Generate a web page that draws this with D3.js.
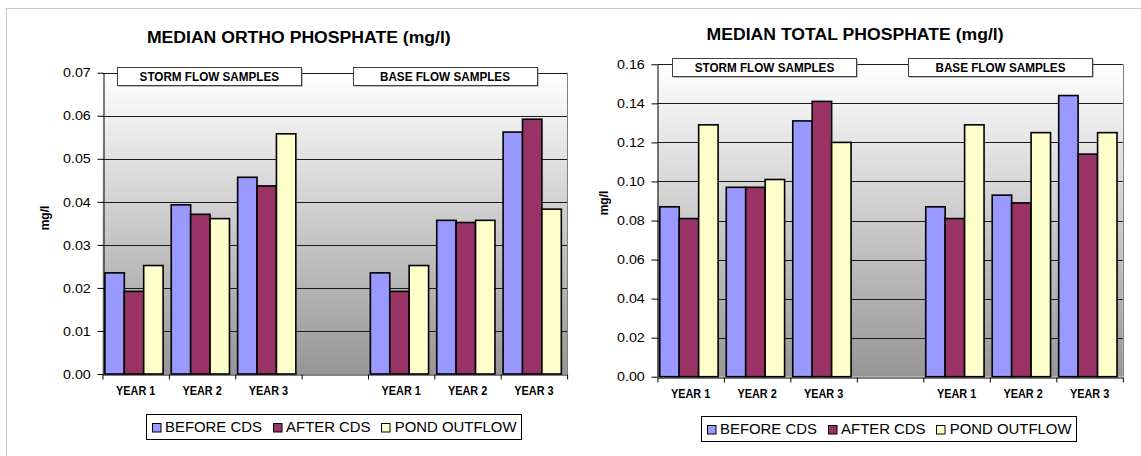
<!DOCTYPE html>
<html>
<head>
<meta charset="utf-8">
<script src="https://cdn.jsdelivr.net/npm/d3@7"></script>
<style>
  html, body { margin: 0; padding: 0; background: #ffffff; }
  svg { display: block; font-family: "Liberation Sans", Arial, Helvetica, sans-serif; }
</style>
</head>
<body>
<svg id="chart" width="1141" height="456"></svg>
<script>
// Category slots: three storm-flow years, an empty spacer slot, three base-flow years
const xLabels = ["YEAR 1", "YEAR 2", "YEAR 3", "", "YEAR 1", "YEAR 2", "YEAR 3"];
const seriesNames = ["BEFORE CDS", "AFTER CDS", "POND OUTFLOW"];
const sampleGroups = ["STORM FLOW SAMPLES", "BASE FLOW SAMPLES"];

// Median ortho phosphate (mg/l)
const orthoBefore = [0.0235, 0.0393, 0.0457, null, 0.0235, 0.0357, 0.0562];
const orthoAfter  = [0.0192, 0.0371, 0.0437, null, 0.0192, 0.0352, 0.0592];
const orthoPond   = [0.0252, 0.0361, 0.0558, null, 0.0252, 0.0357, 0.0383];
const orthoTicks  = [0, 0.01, 0.02, 0.03, 0.04, 0.05, 0.06, 0.07];

// Median total phosphate (mg/l)
const totalBefore = [0.087, 0.097, 0.131, null, 0.087, 0.093, 0.144];
const totalAfter  = [0.081, 0.097, 0.141, null, 0.081, 0.089, 0.114];
const totalPond   = [0.129, 0.101, 0.120, null, 0.129, 0.125, 0.125];
const totalTicks  = [0, 0.02, 0.04, 0.06, 0.08, 0.10, 0.12, 0.14, 0.16];

const seriesColors = ["#9999ff", "#993366", "#ffffcc"];

const svg = d3.select("#chart");
const defs = svg.append("defs");

// Outer frame
svg.append("path")
  .attr("d", "M6.5,456 V8.5 H1141")
  .attr("fill", "none")
  .attr("stroke", "#c8c8c8")
  .attr("stroke-width", 1);

// Stretch text horizontally by factor k
function widen(sel, k) {
  sel.each(function () {
    const w = this.getComputedTextLength();
    if (w > 0) {
      d3.select(this)
        .attr("textLength", (w * k).toFixed(2))
        .attr("lengthAdjust", "spacingAndGlyphs");
    }
  });
}

function drawChart(cfg) {
  const g = svg.append("g");
  const nSlots = xLabels.length;

  const x0 = d3.scaleBand().domain(d3.range(nSlots)).range([cfg.left, cfg.right]);
  const xEdge = d3.scaleLinear().domain([0, nSlots]).range([cfg.left, cfg.right]);
  const x1 = d3.scaleBand().domain(seriesNames).range([0, x0.bandwidth()]).paddingOuter(0.21);
  const y = d3.scaleLinear().domain([0, d3.max(cfg.ticks)]).range([cfg.bottom, cfg.top]);

  // Plot background: white fading to grey
  const grad = defs.append("linearGradient")
    .attr("id", cfg.id + "-bg")
    .attr("x1", 0).attr("y1", 0).attr("x2", 0).attr("y2", 1);
  grad.append("stop").attr("offset", "0%").attr("stop-color", "#ffffff");
  grad.append("stop").attr("offset", "100%").attr("stop-color", "#969696");

  g.append("rect")
    .attr("x", cfg.left).attr("y", cfg.top)
    .attr("width", cfg.right - cfg.left).attr("height", cfg.bottom - cfg.top)
    .attr("fill", `url(#${cfg.id}-bg)`);

  // Horizontal gridlines
  g.append("g").selectAll("line")
    .data(cfg.ticks.filter(t => t > 0))
    .join("line")
    .attr("x1", cfg.left).attr("x2", cfg.right)
    .attr("y1", d => Math.round(y(d)) + 0.5).attr("y2", d => Math.round(y(d)) + 0.5)
    .attr("stroke", "#1a1a1a").attr("stroke-width", 1);

  // Right border of plot area
  g.append("line")
    .attr("x1", Math.round(cfg.right) + 0.5).attr("x2", Math.round(cfg.right) + 0.5)
    .attr("y1", y(d3.max(cfg.ticks))).attr("y2", cfg.bottom)
    .attr("stroke", "#808080").attr("stroke-width", 1);

  // Bars
  const seriesData = cfg.series.map((vals, si) => ({ name: seriesNames[si], color: seriesColors[si], vals }));
  const barShift = -1.7;
  seriesData.forEach(s => {
    g.append("g").selectAll("rect")
      .data(s.vals.map((v, i) => ({ i, v })).filter(d => d.v != null))
      .join("rect")
      .attr("x", d => x0(d.i) + x1(s.name) + barShift)
      .attr("y", d => y(d.v))
      .attr("width", x1.bandwidth())
      .attr("height", d => y(0) - y(d.v))
      .attr("fill", s.color)
      .attr("stroke", "#000")
      .attr("stroke-width", 1.6);
  });

  // Y axis
  const yAxis = g.append("g")
    .attr("transform", `translate(${Math.round(cfg.left) + 0.5},0)`)
    .call(d3.axisLeft(y).tickValues(cfg.ticks).tickFormat(d3.format(".2f"))
      .tickSizeInner(6).tickSizeOuter(0).tickPadding(6.7));
  yAxis.select(".domain").attr("stroke", "#000");
  yAxis.selectAll(".tick line").attr("stroke", "#000");
  yAxis.selectAll("text")
    .attr("font-size", 13).attr("fill", "#000")
    .attr("font-family", "'Liberation Sans', Arial, sans-serif")
    .call(widen, 1.1);

  // X axis: boundary ticks
  const xAxis = g.append("g")
    .attr("transform", `translate(0,${Math.round(cfg.bottom) + 0.5})`)
    .call(d3.axisBottom(xEdge).tickValues(d3.range(nSlots + 1)).tickFormat("")
      .tickSizeInner(5).tickSizeOuter(0));
  xAxis.select(".domain").attr("stroke", "#000");
  xAxis.selectAll(".tick line").attr("stroke", "#000");

  // X axis: category labels
  const xLab = g.append("g")
    .attr("transform", `translate(0,${cfg.bottom})`)
    .call(d3.axisBottom(x0).tickFormat(i => xLabels[i]).tickSize(0).tickPadding(12.5));
  xLab.select(".domain").remove();
  xLab.selectAll("text")
    .attr("font-size", 12.5).attr("font-weight", "bold").attr("fill", "#000")
    .attr("font-family", "'Liberation Sans', Arial, sans-serif")
    .call(widen, 0.87);

  // Title
  g.append("text")
    .attr("x", (cfg.left + cfg.right) / 2 - cfg.titleShift)
    .attr("y", cfg.titleY)
    .attr("text-anchor", "middle")
    .attr("font-size", 16).attr("font-weight", "bold").attr("fill", "#000")
    .text(cfg.title)
    .call(widen, 1.1);

  // Y axis title
  g.append("text")
    .attr("transform", `translate(${cfg.yLabelX},${cfg.yLabelY}) rotate(-90)`)
    .attr("text-anchor", "middle")
    .attr("dy", "0.35em")
    .attr("font-size", 12).attr("font-weight", "bold").attr("fill", "#000")
    .text("mg/l");

  // Sample-group boxes above the bars
  const boxW = 184, boxH = 18;
  const boxCenters = [xEdge(1.61), xEdge(5.16)];
  sampleGroups.forEach((name, gi) => {
    const cx = boxCenters[gi];
    const bx = Math.round(cx - boxW / 2) + 0.5;
    const by = Math.round(cfg.top - 6) + 0.5;
    g.append("rect")
      .attr("x", bx + 1).attr("y", by + 1).attr("width", boxW).attr("height", boxH)
      .attr("fill", "#7f7f7f");
    g.append("rect")
      .attr("x", bx).attr("y", by).attr("width", boxW).attr("height", boxH)
      .attr("fill", "#ffffff").attr("stroke", "#404040").attr("stroke-width", 1);
    g.append("text")
      .attr("x", cx).attr("y", by + boxH / 2 + 4.6)
      .attr("text-anchor", "middle")
      .attr("font-size", 13).attr("font-weight", "bold").attr("fill", "#000")
      .text(name)
      .call(widen, 0.9);
  });

  // Legend
  const legW = 375, legH = 25;
  const legCx = (cfg.left + cfg.right) / 2 - 1.5;
  const lx = Math.round(legCx - legW / 2) + 0.5;
  const ly = Math.round(cfg.bottom + 39.5) + 0.5;
  const leg = g.append("g");
  leg.append("rect")
    .attr("x", lx).attr("y", ly).attr("width", legW).attr("height", legH)
    .attr("fill", "#ffffff").attr("stroke", "#000").attr("stroke-width", 1);

  const sw = 8.5, swGap = 5;
  const items = seriesData.map(s => {
    const t = leg.append("text")
      .attr("y", ly + legH / 2 + 5)
      .attr("font-size", 13.8).attr("fill", "#000")
      .text(s.name)
      .call(widen, 1.08);
    const w = +t.attr("textLength");
    return { s, t, w };
  });
  const contentW = d3.sum(items, d => sw + swGap + d.w);
  const pad = 5;
  const between = (legW - 2 * pad - contentW) / (items.length - 1);
  let cursor = lx + pad;
  items.forEach(d => {
    leg.append("rect")
      .attr("x", Math.round(cursor) + 0.5).attr("y", Math.round(ly + legH / 2 - sw / 2) + 0.5)
      .attr("width", sw).attr("height", sw)
      .attr("fill", d.s.color).attr("stroke", "#000").attr("stroke-width", 1);
    d.t.attr("x", cursor + sw + swGap);
    cursor += sw + swGap + d.w + between;
  });
}

drawChart({
  id: "ortho",
  title: "MEDIAN ORTHO PHOSPHATE (mg/l)",
  left: 102.5, right: 567.1, top: 72.7, bottom: 374,
  ticks: orthoTicks,
  series: [orthoBefore, orthoAfter, orthoPond],
  titleY: 43, titleShift: 36,
  yLabelX: 45, yLabelY: 218
});

drawChart({
  id: "total",
  title: "MEDIAN TOTAL PHOSPHATE (mg/l)",
  left: 657.4, right: 1122.8, top: 64.3, bottom: 376.7,
  ticks: totalTicks,
  series: [totalBefore, totalAfter, totalPond],
  titleY: 39.5, titleShift: 35,
  yLabelX: 604, yLabelY: 203
});
</script>
</body>
</html>
